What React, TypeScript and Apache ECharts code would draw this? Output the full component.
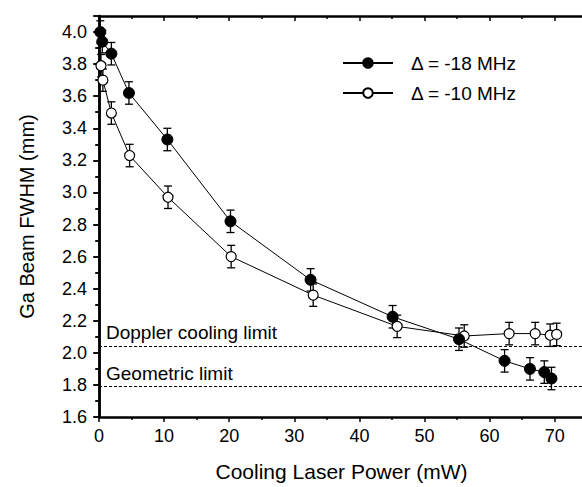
import React, { useEffect, useRef } from "react";
import * as echarts from "echarts";

// Data
const powerFilled = [0.2, 0.5, 1.9, 4.6, 10.5, 20.2, 32.5, 45.1, 55.3, 62.3, 66.2, 68.4, 69.5];
const fwhmFilled = [4.0, 3.94, 3.865, 3.62, 3.33, 2.82, 2.455, 2.225, 2.085, 1.95, 1.9, 1.88, 1.84];
const errFilled = [0.07, 0.07, 0.07, 0.07, 0.07, 0.07, 0.07, 0.07, 0.07, 0.07, 0.07, 0.07, 0.07];

const powerOpen = [0.3, 0.6, 1.9, 4.7, 10.6, 20.3, 32.9, 45.8, 56.1, 63.0, 67.0, 69.3, 70.3];
const fwhmOpen = [3.79, 3.7, 3.495, 3.23, 2.97, 2.6, 2.36, 2.165, 2.105, 2.12, 2.12, 2.11, 2.115];
const errOpen = [0.07, 0.07, 0.07, 0.07, 0.07, 0.07, 0.07, 0.07, 0.07, 0.07, 0.07, 0.07, 0.07];

const seriesNames = ["Δ = -18 MHz", "Δ = -10 MHz"];
const limitValues = [2.04, 1.795];
const limitNames = ["Doppler cooling limit", "Geometric limit"];

const xMin = 0;
const xMax = 74.5;
const xInterval = 10;
const yMin = 1.6;
const yMax = 4.1;
const yInterval = 0.2;

const FONT = "'Liberation Sans', Arial, Helvetica, sans-serif";

function errorBarRender(params: any, api: any) {
  const x = api.value(0);
  const lo = api.value(1);
  const hi = api.value(2);
  const pLo = api.coord([x, lo]);
  const pHi = api.coord([x, hi]);
  const cap = 4;
  const style = { stroke: "#000", lineWidth: 1.3 };
  return {
    type: "group",
    children: [
      { type: "line", shape: { x1: pLo[0], y1: pLo[1], x2: pHi[0], y2: pHi[1] }, style },
      { type: "line", shape: { x1: pLo[0] - cap, y1: pLo[1], x2: pLo[0] + cap, y2: pLo[1] }, style },
      { type: "line", shape: { x1: pHi[0] - cap, y1: pHi[1], x2: pHi[0] + cap, y2: pHi[1] }, style },
    ],
  };
}

export default function App() {
  const ref = useRef<HTMLDivElement>(null);

  useEffect(() => {
    if (!ref.current) return;
    const chart = echarts.init(ref.current, undefined, { renderer: "svg" });

    const filledData = powerFilled.map((x, i) => [x, fwhmFilled[i]]);
    const openData = powerOpen.map((x, i) => [x, fwhmOpen[i]]);
    const filledErr = powerFilled.map((x, i) => [x, fwhmFilled[i] - errFilled[i], fwhmFilled[i] + errFilled[i]]);
    const openErr = powerOpen.map((x, i) => [x, fwhmOpen[i] - errOpen[i], fwhmOpen[i] + errOpen[i]]);

    const yFmt = (v: number) =>
      Math.abs(v / yInterval - Math.round(v / yInterval)) < 1e-6 ? v.toFixed(1) : "";
    const xFmt = (v: number) =>
      Math.abs(v / xInterval - Math.round(v / xInterval)) < 1e-6 ? String(Math.round(v)) : "";

    const axisLine = { show: true, lineStyle: { color: "#000", width: 2.5 } };

    chart.setOption({
      animation: false,
      backgroundColor: "#fff",
      textStyle: { fontFamily: FONT },
      grid: { left: 99, top: 16, right: 16, bottom: 69, containLabel: false },
      legend: {
        orient: "vertical",
        left: 337,
        top: 48,
        itemWidth: 50,
        itemHeight: 12,
        itemGap: 10,
        data: seriesNames,
        textStyle: { fontFamily: FONT, fontSize: 19, lineHeight: 20, color: "#000", padding: [0, 0, 0, 13] },
      },
      xAxis: [
        {
          type: "value",
          min: xMin,
          max: xMax,
          interval: xInterval,
          position: "bottom",
          name: "Cooling Laser Power (mW)",
          nameLocation: "middle",
          nameGap: 44,
          nameTextStyle: { fontFamily: FONT, fontSize: 21, color: "#000" },
          axisLine,
          axisTick: { show: true, inside: false, length: 5, lineStyle: { color: "#000", width: 1.5 } },
          minorTick: { show: true, splitNumber: 2, length: 3, lineStyle: { color: "#000", width: 1.5 } },
          axisLabel: { formatter: xFmt, fontFamily: FONT, fontSize: 18, color: "#000", margin: 10 },
          splitLine: { show: false },
        },
        {
          type: "value",
          min: xMin,
          max: xMax,
          interval: xInterval,
          position: "top",
          axisLine,
          axisTick: { show: true, inside: true, length: 5, lineStyle: { color: "#000", width: 1.5 } },
          minorTick: { show: true, splitNumber: 2, length: 3, lineStyle: { color: "#000", width: 1.5 } },
          axisLabel: { show: false },
          splitLine: { show: false },
        },
      ],
      yAxis: [
        {
          type: "value",
          min: yMin,
          max: yMax,
          interval: yInterval,
          position: "left",
          name: "Ga Beam FWHM (mm)",
          nameLocation: "middle",
          nameGap: 62,
          nameTextStyle: { fontFamily: FONT, fontSize: 20, color: "#000" },
          axisLine,
          axisTick: { show: true, inside: false, length: 6, lineStyle: { color: "#000", width: 1.5 } },
          minorTick: { show: true, splitNumber: 2, length: 4, lineStyle: { color: "#000", width: 1.5 } },
          axisLabel: { formatter: yFmt, fontFamily: FONT, fontSize: 18, color: "#000", margin: 12 },
          splitLine: { show: false },
        },
        {
          type: "value",
          min: yMin,
          max: yMax,
          interval: yInterval,
          position: "right",
          axisLine,
          axisTick: { show: true, inside: true, length: 5, lineStyle: { color: "#000", width: 1.5 } },
          minorTick: { show: true, splitNumber: 2, length: 3, lineStyle: { color: "#000", width: 1.5 } },
          axisLabel: { show: false },
          splitLine: { show: false },
        },
      ],
      series: [
        {
          type: "custom",
          name: "errFilled",
          renderItem: errorBarRender,
          data: filledErr,
          encode: { x: 0, y: [1, 2] },
          z: 2,
          silent: true,
        },
        {
          type: "custom",
          name: "errOpen",
          renderItem: errorBarRender,
          data: openErr,
          encode: { x: 0, y: [1, 2] },
          z: 2,
          silent: true,
        },
        {
          type: "line",
          name: seriesNames[0],
          data: filledData,
          symbol: "circle",
          symbolSize: 11,
          itemStyle: { color: "#000", borderColor: "#000", borderWidth: 1 },
          lineStyle: { color: "#000", width: 1 },
          z: 4,
          markLine: {
            silent: true,
            symbol: "none",
            lineStyle: { color: "#000", width: 1, type: [3, 2] },
            label: {
              show: true,
              position: "insideStartTop",
              formatter: (p: any) => p.name,
              fontFamily: FONT,
              fontSize: 19,
              color: "#000",
              distance: [7, 4],
            },
            data: limitValues.map((v, i) => ({ yAxis: v, name: limitNames[i] })),
          },
        },
        {
          type: "line",
          name: seriesNames[1],
          data: openData,
          symbol: "circle",
          symbolSize: 10,
          itemStyle: { color: "#fff", borderColor: "#000", borderWidth: 1.2 },
          lineStyle: { color: "#000", width: 1 },
          z: 3,
        },
      ],
    });

    return () => chart.dispose();
  }, []);

  return (
    <div style={{ position: "absolute", left: 0, top: 0, width: 582, height: 487, overflow: "hidden", background: "#fff" }}>
      <div ref={ref} style={{ width: 600, height: 487 }} />
    </div>
  );
}
